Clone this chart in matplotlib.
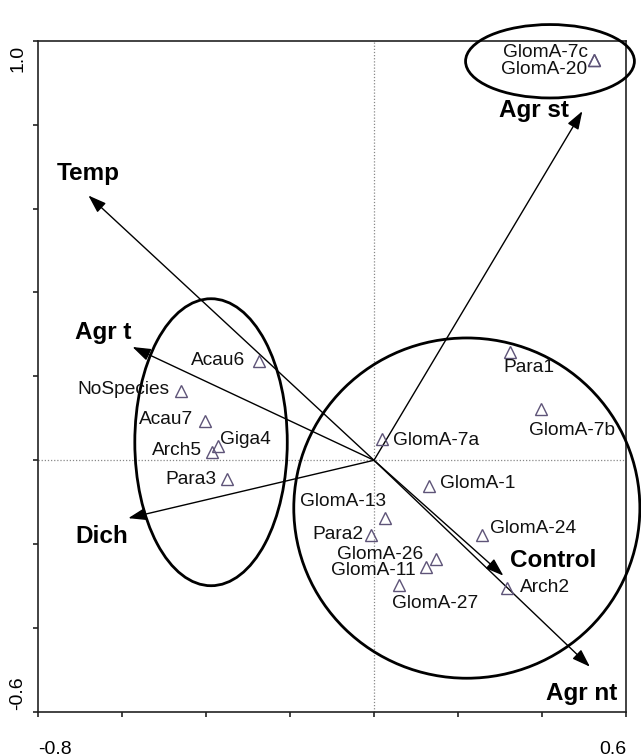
import matplotlib
matplotlib.use("Agg")
import matplotlib.pyplot as plt
from matplotlib.patches import Ellipse

plt.rcParams['font.family'] = ['Liberation Sans', 'DejaVu Sans']

# Species scores (triangles)
species = ["GlomA-7c", "GlomA-20", "Para1", "GlomA-7b", "GlomA-7a", "GlomA-1",
           "GlomA-13", "Para2", "GlomA-24", "GlomA-26", "GlomA-11", "GlomA-27",
           "Arch2", "Acau6", "NoSpecies", "Acau7", "Giga4", "Arch5", "Para3"]
sp_x = [0.524, 0.524, 0.324, 0.397, 0.019, 0.132, 0.025, -0.008, 0.258, 0.147,
        0.124, 0.059, 0.316, -0.275, -0.460, -0.402, -0.371, -0.385, -0.350]
sp_y = [0.955, 0.955, 0.259, 0.122, 0.050, -0.062, -0.138, -0.178, -0.178, -0.236,
        -0.255, -0.297, -0.305, 0.236, 0.164, 0.093, 0.033, 0.019, -0.045]

# Environmental vectors (arrows from origin)
env = ["Temp", "Agr st", "Agr t", "Dich", "Control", "Agr nt"]
env_x = [-0.680, 0.496, -0.575, -0.585, 0.308, 0.514]
env_y = [0.631, 0.832, 0.270, -0.138, -0.275, -0.492]

# Group ellipses: centre x, centre y, width, height
ell_cx = [0.419, -0.388, 0.221]
ell_cy = [0.951, 0.043, -0.114]
ell_w = [0.402, 0.363, 0.824]
ell_h = [0.175, 0.684, 0.811]

# label placement (pixel offsets, alignment)
sp_lab = {
    "GlomA-7c": (-6, 7, 'right'), "GlomA-20": (-7, -10, 'right'),
    "Para1": (-7, -16, 'left'), "GlomA-7b": (-12, -21, 'left'),
    "GlomA-7a": (11, -1, 'left'), "GlomA-1": (11, 3, 'left'),
    "GlomA-13": (2, 17, 'right'), "Para2": (-7, 0, 'right'),
    "GlomA-24": (8, 6, 'left'), "GlomA-26": (-12, 5, 'right'),
    "GlomA-11": (-10, -3, 'right'), "GlomA-27": (-7, -19, 'left'),
    "Arch2": (13, 1, 'left'), "Acau6": (-13, 1, 'right'),
    "NoSpecies": (-11, 2, 'right'), "Acau7": (-12, 2, 'right'),
    "Giga4": (2, 7, 'left'), "Arch5": (-10, 2, 'right'), "Para3": (-11, 0, 'right'),
}
env_lab = {
    "Temp": (-32, 22, 'left'), "Agr st": (-13, 1, 'right'), "Agr t": (-58, 14, 'left'),
    "Dich": (-53, -18, 'left'), "Control": (7, 15, 'left'), "Agr nt": (27, -27, 'right'),
}

fig = plt.figure(figsize=(6.41, 7.56), dpi=100)
ax = fig.add_axes([38/641, 1-712/756, 588/641, 671.3/756])
ax.set_xlim(-0.8, 0.6)
ax.set_ylim(-0.6, 1.0)

ax.axvline(0, color='#888888', lw=0.9, ls=(0, (1, 1.5)), zorder=1)
ax.axhline(0, color='#888888', lw=0.9, ls=(0, (1, 1.5)), zorder=1)

for cx, cy, w, h in zip(ell_cx, ell_cy, ell_w, ell_h):
    ax.add_patch(Ellipse((cx, cy), w, h, fill=False, ec='black', lw=2.0,
                         clip_on=False, zorder=3))

for name, x, y in zip(env, env_x, env_y):
    ax.annotate("", xy=(x, y), xytext=(0, 0),
                arrowprops=dict(arrowstyle='-|>,head_length=0.55,head_width=0.19',
                                color='black', lw=1.0,
                                mutation_scale=20, shrinkA=0, shrinkB=0),
                zorder=4)
    dx, dy, ha = env_lab[name]
    ax.annotate(name, xy=(x, y), xytext=(dx, dy), textcoords='offset pixels',
                ha=ha, va='center', fontsize=17.5, fontweight='bold', zorder=5)

ax.plot(sp_x, sp_y, ls='none', marker='^', ms=8, mfc='none', mec='#5e5478',
        mew=1.0, zorder=5)
for name, x, y in zip(species, sp_x, sp_y):
    dx, dy, ha = sp_lab[name]
    ax.annotate(name, xy=(x, y), xytext=(dx, dy), textcoords='offset pixels',
                ha=ha, va='center', fontsize=13.8, color='#111111', zorder=6)

ax.set_xticks([-0.8, -0.6, -0.4, -0.2, 0.0, 0.2, 0.4, 0.6])
ax.set_yticks([-0.6, -0.4, -0.2, 0.0, 0.2, 0.4, 0.6, 0.8, 1.0])
ax.set_xticklabels([])
ax.set_yticklabels([])
ax.tick_params(direction='out', length=3.5, width=1.2, color='#222222')
for s in ax.spines.values():
    s.set_linewidth(1.2)
    s.set_color('#222222')

ax.text(0.0, -37/671.3, "-0.8", transform=ax.transAxes, ha='left', va='center', fontsize=14)
ax.text(1.0, -37/671.3, "0.6", transform=ax.transAxes, ha='right', va='center', fontsize=14)
ax.text(-20/588, 1.0 - 4/671.3, "1.0", transform=ax.transAxes, ha='center', va='top',
        rotation=90, fontsize=14)
ax.text(-20/588, 0.0 + 2/671.3, "-0.6", transform=ax.transAxes, ha='center', va='bottom',
        rotation=90, fontsize=14)

fig.savefig("out.png", dpi=100)
